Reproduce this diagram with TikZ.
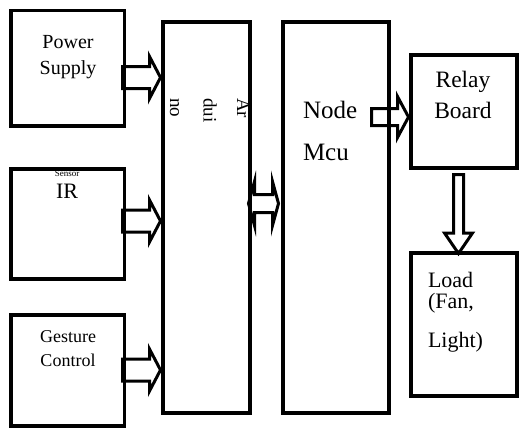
\documentclass[tikz,border=0pt]{standalone}
\usepackage{fontspec}
\setmainfont{Liberation Serif}
\usetikzlibrary{fit}
\begin{document}
\begin{tikzpicture}[x=1bp,y=-1bp,
  box/.style={draw=black, line width=3.5bp, inner sep=0pt, outer sep=0pt},
  txt/.style={inner sep=0pt, outer sep=0pt, text=black},
  blockarr/.style={draw=black, line width=3bp, fill=white, line join=miter, miter limit=10},
  rarr/.pic={\path[blockarr] (0,-11)--(27,-11)--(27,-21)--(38,0)--(27,21)--(27,11)--(0,11)--cycle;},
  rarrb/.pic={\path[blockarr] (0,-8.5)--(26,-8.5)--(26,-20.5)--(37,0)--(26,20.5)--(26,8.5)--(0,8.5)--cycle;},
  darr/.pic={\path[blockarr] (-5,0)--(5,0)--(5,58.5)--(14,58.5)--(0,79)--(-14,58.5)--(-5,58.5)--cycle;},
  dblarr/.pic={\path[blockarr] (-15,0)--(-9,-22)--(-9,-9)--(9,-9)--(9,-22)--(15,0)--(9,22)--(9,9)--(-9,9)--(-9,22)--cycle;},
  ]
\useasboundingbox (0,0) rectangle (519,428);

% block arrows (connectors)
\pic (a1) at (122.5,77.5) {rarr};
\pic (a2) at (122.5,221) {rarr};
\pic (a3) at (122.5,370) {rarr};
\pic (a4) at (371.5,117) {rarrb};
\pic (a5) at (458.5,174.5) {darr};
\pic (a6) at (263.5,203.5) {dblarr};

% boxes
\node[box, fit={(11,10.5) (124.5,126)}] (ps) {};
\node[box, fit={(11,169) (124.5,279)}] (ir) {};
\node[box, fit={(11,315) (124.5,426)}] (gc) {};
\node[box, fit={(163,22) (250,413)}] (ard) {};
\node[box, fit={(283,22) (389,413)}] (nm) {};
\node[box, fit={(411,55) (517,168)}] (rb) {};
\node[box, fit={(411,253) (517,396)}] (ld) {};

% texts
\node[txt, font=\fontsize{20bp}{26bp}\selectfont, align=center, anchor=north] (pst) at (68,35) {Power\\Supply};
\node[txt, font=\fontsize{9bp}{9bp}\selectfont, anchor=base] (irs) at (67,176) {Sensor};
\node[txt, font=\fontsize{22bp}{22bp}\selectfont, anchor=base] (irt) at (67,198) {IR};
\node[txt, font=\fontsize{18bp}{24bp}\selectfont, align=center, anchor=north] (gct) at (68,331) {Gesture\\Control};
\node[txt, font=\fontsize{19bp}{33.5bp}\selectfont, align=left, rotate=-90, anchor=north west] (ardt) at (249.6,98) {Ar\\dui\\no};
\node[txt, font=\fontsize{25bp}{42bp}\selectfont, align=left, anchor=north west] (nmt) at (303,101.2) {Node\\Mcu};
\node[txt, font=\fontsize{23.5bp}{31bp}\selectfont, align=center, anchor=north] (rbt) at (463,71.3) {Relay\\Board};
\node[txt, font=\fontsize{22bp}{21bp}\selectfont, align=left, anchor=north west] (ldt) at (428,272) {Load\\(Fan,\\[18bp]Light)};
\end{tikzpicture}
\end{document}
